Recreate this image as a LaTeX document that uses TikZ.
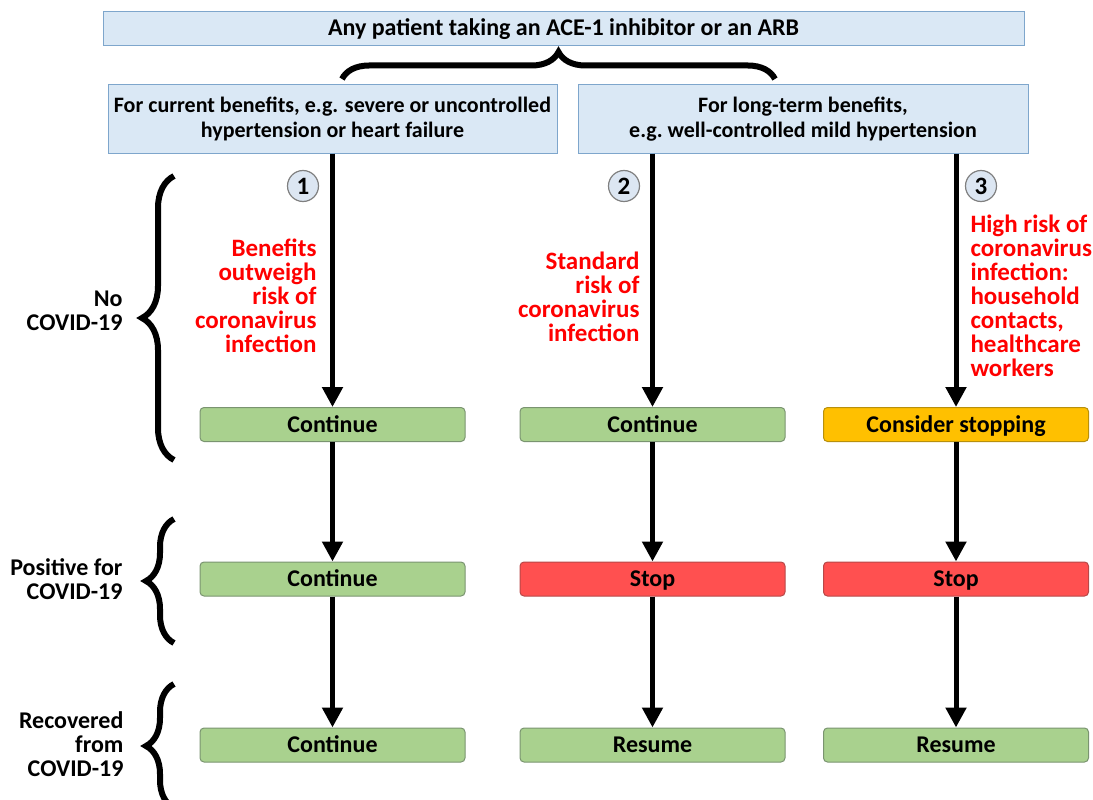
\documentclass[tikz,border=0pt]{standalone}
\usepackage{fontspec}
\setmainfont{Carlito}
\usetikzlibrary{arrows.meta,decorations.pathreplacing,calc}
\definecolor{bluefill}{HTML}{DAE8F5}
\definecolor{blueline}{HTML}{7EA6CC}
\definecolor{greenfill}{HTML}{A9D18E}
\definecolor{greenline}{HTML}{7A9470}
\definecolor{orangefill}{HTML}{FFC000}
\definecolor{orangeline}{HTML}{B8900C}
\definecolor{redfill}{HTML}{FF5050}
\definecolor{redline}{HTML}{B84848}
\definecolor{redtext}{HTML}{FF0000}
\definecolor{circfill}{HTML}{DCE6F2}
\begin{document}
\begin{tikzpicture}[x=1pt,y=-1pt,
  topbox/.style={draw=blueline,fill=bluefill,line width=1pt,inner sep=0pt,align=center,
    font=\bfseries\fontsize{22}{25}\selectfont},
  resbox/.style={draw=#1line,fill=#1fill,line width=1pt,rounded corners=4pt,inner sep=0pt,
    minimum width=265pt,minimum height=34pt,text height=17pt,text depth=1.5pt,
    font=\bfseries\fontsize{24}{26}\selectfont},
  arr/.style={line width=5pt,-{Triangle[width=20pt,length=20pt]}},
  bigbrace/.style={line width=6pt,decorate,decoration={brace,amplitude=#1}},
  numcirc/.style={circle,draw=gray,fill=circfill,line width=1.2pt,minimum size=31pt,inner sep=0pt,
    font=\bfseries\fontsize{25}{26}\selectfont},
  risk/.style={text=redtext,font=\bfseries\fontsize{25}{24}\selectfont},
  rowlab/.style={anchor=east,align=right,font=\bfseries\fontsize{24}{24}\selectfont}
]
\useasboundingbox (0,0) rectangle (1093,800);

\node[topbox,minimum width=921pt,minimum height=34pt,font=\bfseries\fontsize{24}{26}\selectfont] (top) at (563.5,29) {Any patient taking an ACE-1 inhibitor or an ARB};
\node[topbox,minimum width=449pt,minimum height=68pt] (L) at (332.5,119) {For current benefits, e.g. severe or uncontrolled\\hypertension or heart failure};
\node[topbox,minimum width=450pt,minimum height=68pt] (R) at (803,119) {For long-term benefits,\\e.g.\ well-controlled mild hypertension};

\coordinate (tbL) at (342,79);
\coordinate (tbR) at (775,79);
\draw[bigbrace=27pt] (tbL) -- (tbR);

% result boxes
\node[resbox=green] (c1a) at (332.5,424.5) {Continue};
\node[resbox=green] (c2a) at (652.5,424.5) {Continue};
\node[resbox=orange] (c3a) at (956,424.5) {Consider stopping};
\node[resbox=green] (c1b) at (332.5,579) {Continue};
\node[resbox=red] (c2b) at (652.5,579) {Stop};
\node[resbox=red] (c3b) at (956,579) {Stop};
\node[resbox=green] (c1c) at (332.5,745) {Continue};
\node[resbox=green] (c2c) at (652.5,745) {Resume};
\node[resbox=green] (c3c) at (956,745) {Resume};

% arrows
\draw[arr] (L.south -| c1a.north) -- (c1a.north);
\draw[arr] (R.south -| c2a.north) -- (c2a.north);
\draw[arr] (R.south -| c3a.north) -- (c3a.north);
\draw[arr] (c1a) -- (c1b);
\draw[arr] (c2a) -- (c2b);
\draw[arr] (c3a) -- (c3b);
\draw[arr] (c1b) -- (c1c);
\draw[arr] (c2b) -- (c2c);
\draw[arr] (c3b) -- (c3c);

% numbers
\node[numcirc] (n1) at (303,186) {1};
\node[numcirc] (n2) at (624,186) {2};
\node[numcirc] (n3) at (981,186) {3};

% risk texts
\node[risk,anchor=east,align=right] (r1) at (320,296) {Benefits\\outweigh\\risk of\\coronavirus\\infection};
\node[risk,anchor=east,align=right] (r2) at (643,297) {Standard\\risk of\\coronavirus\\infection};
\node[risk,anchor=west,align=left] (r3) at (967,296) {High risk of\\coronavirus\\infection:\\household\\contacts,\\healthcare\\workers};

% left braces
\coordinate (b1a) at (174,460);
\coordinate (b1b) at (174,176);
\coordinate (b2a) at (174,643);
\coordinate (b2b) at (174,519);
\coordinate (b3a) at (174,808);
\coordinate (b3b) at (174,684);
\draw[bigbrace=32pt] (b1a) -- (b1b);
\draw[bigbrace=28pt] (b2a) -- (b2b);
\draw[bigbrace=28pt] (b3a) -- (b3b);

\node[rowlab] (lab1) at (126,311) {No\\COVID-19};
\node[rowlab] (lab2) at (126,579) {Positive for\\COVID-19};
\node[rowlab] (lab3) at (127,744) {Recovered\\from\\COVID-19};
\end{tikzpicture}
\end{document}
